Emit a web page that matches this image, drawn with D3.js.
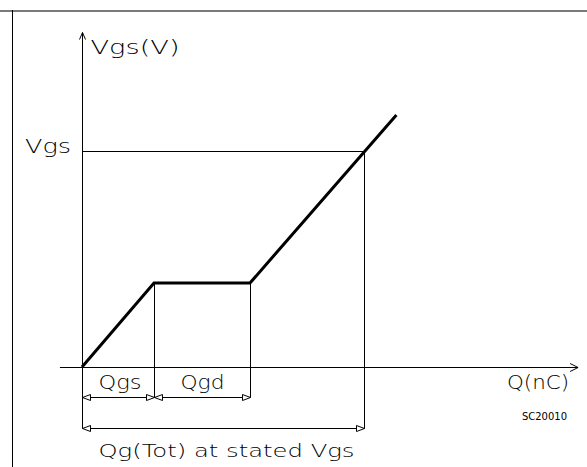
<!DOCTYPE html>
<html>
<head>
<meta charset="utf-8">
<script src="https://cdn.jsdelivr.net/npm/d3@7"></script>
<style>
  body { margin: 0; background: #fff; }
  text { font-family: 'DejaVu Sans', sans-serif; font-weight: 200; fill: #000; }
</style>
</head>
<body>
<svg id="chart" width="587" height="467"></svg>
<script>
// gate charge curve, Q in nC and Vgs in V (schematic units)
const curveQ = [0, 3, 7, 13.1];
const curveV = [0, 3.5, 3.5, 10.5];
const qgsEnd = 3;
const qgdEnd = 7;
const qgTot = 11.75;
const vgsStated = 9;
const xAxisLabel = 'Q(nC)';
const yAxisLabel = 'Vgs(V)';
const vgsLabel = 'Vgs';
const qgsLabel = 'Qgs';
const qgdLabel = 'Qgd';
const qgTotLabel = 'Qg(Tot) at stated Vgs';
const refCode = 'SC20010';

const svg = d3.select('#chart');
const x = d3.scaleLinear().domain([0, 20]).range([82, 562]);
const y = d3.scaleLinear().domain([0, 10]).range([367, 127]);
const px = (v) => Math.round(x(v)) + 0.5;
const py = (v) => Math.round(y(v)) + 0.5;

const row1 = py(0) + 30; // Qgs / Qgd dimension row
const row2 = py(0) + 61; // Qg(Tot) dimension row

// frame
svg.append('line').attr('x1', 0).attr('x2', 587).attr('y1', 11).attr('y2', 11)
  .attr('stroke', '#7a7a7a').attr('stroke-width', 2);
svg.append('line').attr('x1', 12.5).attr('x2', 12.5).attr('y1', 10).attr('y2', 467)
  .attr('stroke', '#000').attr('stroke-width', 1);

const g = svg.append('g').attr('stroke', '#000').attr('stroke-width', 1).attr('fill', 'none');

// axes
g.append('line').attr('x1', px(0)).attr('x2', px(0)).attr('y1', row2).attr('y2', py(13.95));
g.append('path').attr('d', `M${px(0) - 3},${py(13.95) + 7} L${px(0)},${py(13.95)} L${px(0) + 3},${py(13.95) + 7}`);
g.append('line').attr('x1', x(-0.92)).attr('x2', x(20.67)).attr('y1', py(0)).attr('y2', py(0));
g.append('path').attr('d', `M${x(20.67) - 8},${py(0) - 4} L${x(20.67)},${py(0)} L${x(20.67) - 8},${py(0) + 4}`);

// stated Vgs guide lines
g.append('line').attr('x1', px(0)).attr('x2', px(qgTot)).attr('y1', py(vgsStated)).attr('y2', py(vgsStated));
g.append('line').attr('x1', px(qgTot)).attr('x2', px(qgTot)).attr('y1', py(vgsStated)).attr('y2', row2);
g.append('line').attr('x1', px(qgsEnd)).attr('x2', px(qgsEnd)).attr('y1', py(curveV[1])).attr('y2', row1);
g.append('line').attr('x1', px(qgdEnd)).attr('x2', px(qgdEnd)).attr('y1', py(curveV[2])).attr('y2', row1);

// dimension lines with open arrowheads
const arrow = (tx, ty, dir) =>
  `M${tx},${ty} L${tx - dir * 8},${ty - 3} L${tx - dir * 8},${ty + 3} Z`;
const dimension = (q0, q1, row) => {
  g.append('line').attr('x1', px(q0)).attr('x2', px(q1)).attr('y1', row).attr('y2', row);
  g.append('path').attr('d', arrow(px(q0), row, -1)).attr('fill', '#fff');
  g.append('path').attr('d', arrow(px(q1), row, 1)).attr('fill', '#fff');
};
dimension(0, qgsEnd, row1);
dimension(qgsEnd, qgdEnd, row1);
dimension(0, qgTot, row2);

// the charge curve
const line = d3.line().x((d) => x(d[0])).y((d) => y(d[1]));
svg.append('path')
  .datum(curveQ.map((q, i) => [q, curveV[i]]))
  .attr('d', line)
  .attr('fill', 'none')
  .attr('stroke', '#000')
  .attr('stroke-width', 3)
  .attr('stroke-linejoin', 'miter');

// texts
const label = (str, tx, ty, size, len) =>
  svg.append('text').attr('x', tx).attr('y', ty).attr('font-size', size)
    .attr('textLength', len).attr('lengthAdjust', 'spacingAndGlyphs').text(str);

label(yAxisLabel, px(0) + 8, 54, 20, 89);
label(vgsLabel, 25, py(vgsStated) + 1, 20, 46);
label(qgsLabel, px(0) + 16, py(0) + 21, 20, 43);
label(qgdLabel, px(qgsEnd) + 26, py(0) + 21, 20, 44);
label(xAxisLabel, 507, py(0) + 21, 20, 62);
label(qgTotLabel, px(0) + 16, row2 + 28, 18, 256);
svg.append('text').attr('x', 522).attr('y', 420).attr('font-size', 10)
  .style('font-weight', 'normal').attr('textLength', 45)
  .attr('lengthAdjust', 'spacingAndGlyphs').text(refCode);
</script>
</body>
</html>
